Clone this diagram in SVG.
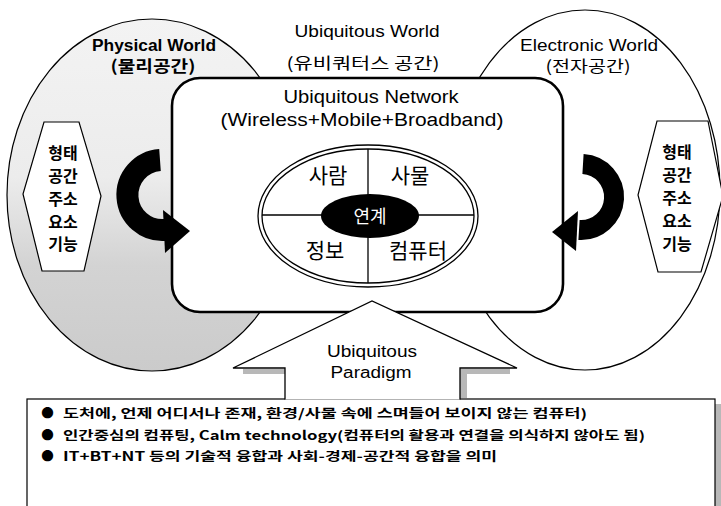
<svg xmlns="http://www.w3.org/2000/svg" width="721" height="506" viewBox="0 0 721 506">
<defs>
<style>
.lat{font-family:"Liberation Sans","Noto Sans CJK KR",sans-serif;fill:#000}
.kr{font-family:"Noto Sans CJK KR","Liberation Sans",sans-serif;fill:#000}
.ln{fill:none;stroke:#000;stroke-width:1.3}
.hex{fill:#fff;stroke:#000;stroke-width:1.2}
.hx{font-family:"Noto Sans CJK KR",sans-serif;font-size:16px;font-weight:700;text-anchor:middle}
.core{font-family:"Noto Sans CJK KR",sans-serif;font-size:21px;text-anchor:middle}
.box{font-family:"Noto Sans CJK KR","Liberation Sans",sans-serif;font-size:12.5px;font-weight:700}
.shade{fill:#b8b8b8}
</style>
<linearGradient id="stip" x1="0" y1="0" x2="0" y2="1">
<stop offset="0" stop-color="#f3f3f3"/>
<stop offset="0.45" stop-color="#ececec"/>
<stop offset="0.7" stop-color="#d3d3d3"/>
<stop offset="1" stop-color="#cbcbcb"/>
</linearGradient>
</defs>
<rect width="721" height="506" fill="#fff"/>

<g id="physical-world">
<ellipse cx="152" cy="195" rx="145" ry="176" fill="url(#stip)" stroke="#000" stroke-width="1.2"/>
<text class="lat" x="154" y="51" font-size="16" font-weight="700" text-anchor="middle" textLength="124" lengthAdjust="spacingAndGlyphs">Physical World</text>
<text class="kr" x="153" y="72" font-size="16" font-weight="700" text-anchor="middle" textLength="85" lengthAdjust="spacingAndGlyphs">(물리공간)</text>
</g>

<g id="electronic-world">
<ellipse cx="585" cy="190" rx="135" ry="180" fill="#fff" stroke="#000" stroke-width="1.2"/>
<text class="lat" x="589" y="51" font-size="16" text-anchor="middle" textLength="138" lengthAdjust="spacingAndGlyphs">Electronic World</text>
<text class="kr" x="588" y="72" font-size="16" text-anchor="middle" textLength="85" lengthAdjust="spacingAndGlyphs">(전자공간)</text>
</g>

<g id="ubiquitous-world">
<text class="lat" x="367" y="37" font-size="17" text-anchor="middle" textLength="145" lengthAdjust="spacingAndGlyphs">Ubiquitous World</text>
<text class="kr" x="363" y="69" font-size="16" text-anchor="middle" textLength="153" lengthAdjust="spacingAndGlyphs">(유비쿼터스 공간)</text>
</g>

<g id="ubiquitous-network">
<rect x="172" y="78" width="391" height="234" rx="28" ry="28" fill="#fff" stroke="#000" stroke-width="2.6"/>
<text class="lat" x="371" y="103" font-size="18" text-anchor="middle" textLength="175" lengthAdjust="spacingAndGlyphs">Ubiquitous Network</text>
<text class="lat" x="362" y="126" font-size="18" text-anchor="middle" textLength="283" lengthAdjust="spacingAndGlyphs">(Wireless+Mobile+Broadband)</text>
</g>

<g id="core">
<ellipse cx="368" cy="216" rx="110" ry="71" class="ln"/>
<ellipse cx="368" cy="216" rx="106" ry="67" class="ln"/>
<line x1="368" y1="149" x2="368" y2="283" class="ln"/>
<line x1="262" y1="215" x2="474" y2="215" class="ln"/>
<ellipse cx="370" cy="216" rx="49" ry="22" fill="#000"/>
<text x="370" y="223" font-family="Noto Sans CJK KR,sans-serif" font-size="18" fill="#fff" text-anchor="middle">연계</text>
<text class="core" x="328" y="183">사람</text>
<text class="core" x="410" y="183">사물</text>
<text class="core" x="325" y="258">정보</text>
<text class="core" x="418" y="258">컴퓨터</text>
</g>

<g id="hex-left">
<polygon class="hex" points="44,122 79,122 101,196 84,271 42,271 23,194"/>
<text class="hx" x="63" y="159">형태</text>
<text class="hx" x="63" y="182">공간</text>
<text class="hx" x="63" y="205">주소</text>
<text class="hx" x="63" y="228">요소</text>
<text class="hx" x="63" y="250">기능</text>
</g>

<g id="hex-right">
<polygon class="hex" points="657,121 708,121 723,196 701,272 658,272 638,195"/>
<text class="hx" x="677" y="158">형태</text>
<text class="hx" x="677" y="181">공간</text>
<text class="hx" x="677" y="204">주소</text>
<text class="hx" x="677" y="227">요소</text>
<text class="hx" x="677" y="250">기능</text>
</g>

<g id="connectors">
<path d="M 160 160 A 35 35 0 1 0 165 230" fill="none" stroke="#000" stroke-width="22"/>
<polygon points="163,210 190,231 165,253" fill="#000"/>
<path d="M 583 164 A 33 33 0 1 1 579 230" fill="none" stroke="#000" stroke-width="20"/>
<polygon points="578,211 552,232 576,251" fill="#000"/>
</g>

<g id="description">
<rect x="715" y="404" width="6" height="102" class="shade"/>
<rect x="27" y="399" width="688" height="120" fill="#fff" stroke="#000" stroke-width="1.2"/>
<text class="box" x="47.5" y="418" text-anchor="middle">●</text>
<text class="box" x="63" y="418" textLength="524" lengthAdjust="spacingAndGlyphs">도처에, 언제 어디서나 존재, 환경/사물 속에 스며들어 보이지 않는 컴퓨터)</text>
<text class="box" x="47.5" y="440" text-anchor="middle">●</text>
<text class="box" x="63" y="440" textLength="582" lengthAdjust="spacingAndGlyphs">인간중심의 컴퓨팅, Calm technology(컴퓨터의 활용과 연결을 의식하지 않아도 됨)</text>
<text class="box" x="47.5" y="461" text-anchor="middle">●</text>
<text class="box" x="63" y="461" textLength="434" lengthAdjust="spacingAndGlyphs">IT+BT+NT 등의 기술적 융합과 사회-경제-공간적 융합을 의미</text>
</g>

<g id="paradigm">
<rect x="243" y="369" width="42" height="5" class="shade"/>
<rect x="460" y="369" width="50" height="5" class="shade"/>
<rect x="460" y="369" width="7" height="29" class="shade"/>
<polygon points="285,399.6 285,368 233,368 372,301 517,368 460,368 460,399.6" fill="#fff"/>
<polyline points="285,399.6 285,368 233,368 372,301 517,368 460,368 460,399.6" fill="none" stroke="#000" stroke-width="1.3"/>
<text class="lat" x="372" y="357" font-size="16" text-anchor="middle" textLength="90" lengthAdjust="spacingAndGlyphs">Ubiquitous</text>
<text class="lat" x="371" y="378" font-size="16" text-anchor="middle" textLength="81" lengthAdjust="spacingAndGlyphs">Paradigm</text>
</g>
</svg>
